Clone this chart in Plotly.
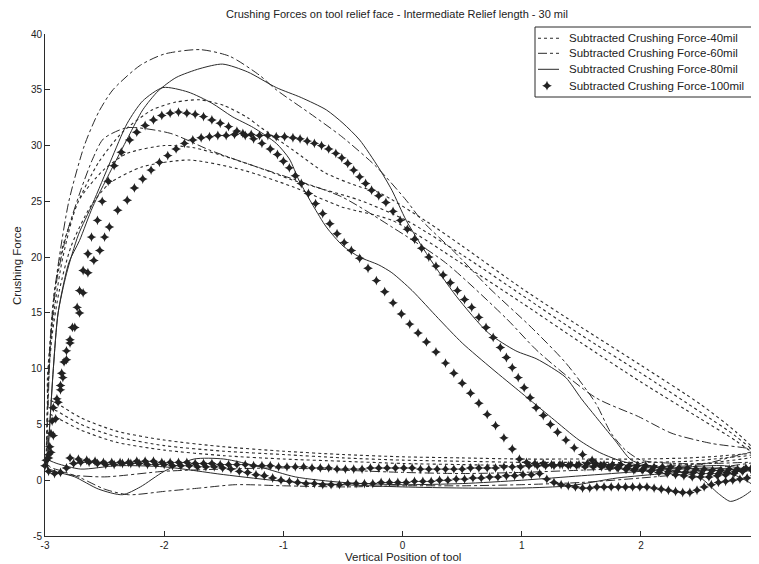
import plotly.graph_objects as go

# ---------------- data (x = vertical position, y = crushing force) ----------------
# 40 mil : forward strokes d1..d3 and return strokes t1..t3
f40_d1 = [(-2.99,2.0),(-2.98,7.0),(-2.96,12.0),(-2.92,17.0),(-2.85,21.0),(-2.72,25.0),(-2.55,28.5),(-2.35,31.2),(-2.10,33.2),(-1.90,33.9),(-1.70,34.1),(-1.50,33.6),(-1.30,32.5),(-1.20,31.7),(-0.92,29.6),(-0.64,27.5),(-0.36,26.3),(-0.20,25.8),(0.20,23.2),(0.50,21.0),(1.00,17.2),(1.50,13.7),(2.00,10.3),(2.50,6.8),(2.80,4.3),(2.95,2.6)]
f40_t1 = [(2.70,2.2),(2.40,2.0),(2.00,1.9),(1.50,1.9),(1.00,1.9),(0.50,2.0),(0.00,2.1),(-0.50,2.3),(-1.00,2.6),(-1.50,3.0),(-2.00,3.6),(-2.40,4.4),(-2.70,5.6),(-2.90,6.9),(-2.97,7.3)]
f40_d2 = [(-2.98,9.0),(-2.96,12.0),(-2.92,15.5),(-2.85,20.0),(-2.72,25.0),(-2.51,27.8),(-2.31,29.3),(-2.00,30.0),(-1.75,29.8),(-1.48,29.0),(-1.20,28.0),(-0.92,26.9),(-0.64,26.0),(-0.36,25.1),(0.03,23.3),(0.50,20.2),(1.00,16.6),(1.50,13.0),(2.00,9.6),(2.50,6.1),(2.80,3.9),(2.95,2.4)]
f40_t2 = [(2.70,2.0),(2.40,1.7),(2.00,1.6),(1.50,1.6),(1.00,1.6),(0.50,1.7),(0.00,1.8),(-0.50,2.0),(-1.00,2.3),(-1.50,2.6),(-2.00,3.1),(-2.40,3.9),(-2.70,5.0),(-2.90,6.2),(-2.97,6.6)]
f40_d3 = [(-2.97,9.0),(-2.94,13.0),(-2.88,17.0),(-2.78,21.0),(-2.62,24.5),(-2.46,26.6),(-2.18,28.1),(-1.79,28.7),(-1.34,27.8),(-0.92,26.3),(-0.51,24.5),(-0.09,23.3),(0.50,19.4),(1.00,15.9),(1.50,12.3),(2.00,8.8),(2.50,5.5),(2.80,3.5),(2.95,2.2)]
f40_t3 = [(2.70,1.7),(2.40,1.4),(2.00,1.3),(1.50,1.3),(1.00,1.3),(0.50,1.4),(0.00,1.5),(-0.50,1.7),(-1.00,1.9),(-1.50,2.2),(-2.00,2.7),(-2.40,3.4),(-2.70,4.5),(-2.90,5.6),(-2.97,6.0)]

# 60 mil
f60_d1 = [(-2.99,1.5),(-2.98,6.0),(-2.97,10.0),(-2.93,16.0),(-2.88,20.0),(-2.80,25.0),(-2.67,30.0),(-2.55,33.0),(-2.43,35.0),(-2.20,37.2),(-2.00,38.2),(-1.70,38.6),(-1.45,38.0),(-1.20,36.3),(-1.06,35.0),(-0.78,32.9),(-0.51,30.8),(-0.22,28.1),(0.03,25.1),(0.16,23.3),(0.45,20.3),(0.72,17.3),(1.08,13.7),(1.37,10.5),(1.62,6.9),(1.75,4.2),(1.87,2.7),(2.00,1.8),(2.30,1.5),(2.60,1.5),(2.95,1.6)]
f60_r1 = [(2.70,1.2),(2.40,0.6),(2.00,0.2),(1.50,-0.2),(1.00,-0.4),(0.50,-0.5),(0.00,-0.5),(-0.50,-0.6),(-1.00,-0.5),(-1.40,-0.4),(-1.70,-0.7),(-2.00,-1.0),(-2.30,-1.3),(-2.50,-0.8),(-2.70,0.2),(-2.85,0.8),(-2.97,1.3)]
f60_d2 = [(-2.98,4.0),(-2.97,8.0),(-2.95,13.0),(-2.90,18.0),(-2.82,22.0),(-2.70,26.0),(-2.60,28.8),(-2.51,30.6),(-2.31,31.6),(-1.95,31.1),(-1.62,29.6),(-1.31,28.4),(-0.92,27.0),(-0.51,25.4),(-0.09,22.7),(0.36,19.5),(0.87,14.5),(1.14,11.5),(1.62,7.4),(1.98,5.7),(2.26,4.2),(2.59,3.3),(2.96,2.7)]
f60_r2 = [(2.80,2.2),(2.50,1.4),(2.00,1.1),(1.50,0.9),(1.00,0.7),(0.50,0.6),(0.00,0.7),(-0.50,0.9),(-1.00,1.1),(-1.50,1.0),(-2.00,0.8),(-2.50,0.3),(-2.80,0.5),(-2.97,1.0)]

# 80 mil
f80_s1 = [(-2.98,1.0),(-2.96,5.0),(-2.93,10.0),(-2.89,15.0),(-2.82,18.5),(-2.72,22.0),(-2.60,24.8),(-2.45,28.6),(-2.31,32.0),(-2.18,34.0),(-2.01,35.2),(-1.80,34.8),(-1.60,33.8),(-1.43,32.6),(-1.25,31.6),(-1.06,30.2),(-0.95,28.8),(-0.87,26.9),(-0.75,24.6),(-0.64,22.7),(-0.50,21.0),(-0.36,20.0),(-0.20,19.3),(-0.09,18.6),(0.08,17.0),(0.30,14.5),(0.50,12.3),(0.75,10.0),(1.00,7.8),(1.25,5.6),(1.48,3.6),(1.65,2.5),(1.81,1.8),(2.00,1.3),(2.30,1.0),(2.60,1.1),(2.95,0.8)]
f80_r1 = [(2.70,1.3),(2.40,1.2),(2.00,0.8),(1.50,0.4),(1.00,0.0),(0.50,-0.3),(0.00,-0.4),(-0.50,-0.2),(-0.90,0.3),(-1.20,1.2),(-1.50,1.9),(-1.75,1.9),(-2.00,0.8),(-2.20,-0.6),(-2.35,-1.3),(-2.55,-0.8),(-2.75,0.3),(-2.85,0.6),(-2.97,0.9)]
f80_s2 = [(-2.98,2.0),(-2.96,5.0),(-2.93,10.0),(-2.89,15.0),(-2.80,19.5),(-2.71,21.5),(-2.60,24.5),(-2.46,27.5),(-2.30,30.8),(-2.18,33.2),(-2.05,34.9),(-1.90,36.1),(-1.70,36.9),(-1.51,37.3),(-1.30,36.6),(-1.06,35.2),(-0.85,34.3),(-0.64,33.2),(-0.50,32.0),(-0.36,30.5),(-0.20,28.0),(-0.09,26.0),(0.03,23.3),(0.22,20.0),(0.45,16.5),(0.72,13.2),(0.95,11.6),(1.12,10.9),(1.25,10.1),(1.37,9.2),(1.50,7.3),(1.62,5.7),(1.78,3.6),(1.92,1.8),(2.10,1.2),(2.30,0.8),(2.50,0.2),(2.65,-1.2),(2.75,-1.9),(2.85,-1.5),(2.95,-0.6)]
f80_r2 = [(2.80,0.4),(2.60,0.9),(2.20,0.6),(1.80,0.2),(1.40,-0.5),(1.00,-0.7),(0.50,-0.7),(0.00,-0.6),(-0.50,-0.4),(-1.00,-0.1),(-1.50,0.5),(-2.00,1.2),(-2.40,1.3),(-2.70,1.0),(-2.90,1.5),(-2.97,1.8)]

# 100 mil (sampled points, drawn as markers)
f100_l1 = [(-2.97,2.0),(-2.96,3.0),(-2.95,4.2),(-2.94,5.3),(-2.93,6.5),(-2.90,7.3),(-2.87,8.1),(-2.85,9.2),(-2.82,10.8),(-2.79,12.3),(-2.77,13.7),(-2.73,15.5),(-2.71,17.0),(-2.68,18.8),(-2.64,20.3),(-2.61,21.8),(-2.56,23.3),(-2.52,25.0),(-2.47,26.8),(-2.42,28.2),(-2.36,29.4),(-2.29,30.5),(-2.23,31.2),(-2.16,31.8),(-2.09,32.3),(-2.02,32.7),(-1.95,32.9),(-1.88,33.0),(-1.81,32.9),(-1.74,32.8),(-1.67,32.6),(-1.60,32.3),(-1.53,32.0),(-1.46,31.7),(-1.39,31.3),(-1.32,30.9),(-1.25,30.6),(-1.18,30.2),(-1.11,29.7),(-1.05,29.2),(-1.00,28.6),(-0.95,28.0),(-0.90,27.3),(-0.85,26.6),(-0.79,25.7),(-0.73,24.8),(-0.67,23.9),(-0.61,23.0),(-0.55,22.1),(-0.49,21.3),(-0.43,20.6),(-0.36,19.9),(-0.29,19.0),(-0.22,17.9),(-0.15,16.9),(-0.08,15.9),(-0.01,14.9),(0.06,14.0),(0.13,13.2),(0.20,12.4),(0.28,11.5),(0.36,10.5),(0.43,9.6),(0.50,8.7),(0.57,7.8),(0.64,6.9),(0.71,5.9),(0.78,4.9),(0.85,3.8),(0.92,2.8),(0.98,1.9)]
f100_a1 = [(1.04,1.6),(1.11,1.5),(1.18,1.5),(1.25,1.4),(1.32,1.4),(1.39,1.3),(1.46,1.3),(1.53,1.2),(1.60,1.2),(1.67,1.2),(1.74,1.1),(1.81,1.1),(1.88,1.0),(1.95,1.0),(2.02,1.0),(2.09,0.9),(2.16,0.9),(2.23,0.8),(2.30,0.8),(2.37,0.7),(2.44,0.7),(2.51,0.6),(2.58,0.6),(2.65,0.6),(2.72,0.7),(2.79,0.8),(2.86,0.9),(2.93,1.0)]
f100_c = [(2.95,0.4),(2.89,0.2),(2.83,0.1),(2.77,0.0),(2.71,-0.1),(2.65,-0.2),(2.59,-0.4),(2.53,-0.6),(2.47,-0.9),(2.41,-1.1),(2.35,-1.1),(2.29,-1.0),(2.23,-0.9),(2.17,-0.8),(2.11,-0.7),(2.05,-0.6),(1.99,-0.6),(1.93,-0.6),(1.87,-0.6),(1.81,-0.6),(1.75,-0.6),(1.69,-0.6),(1.63,-0.6),(1.57,-0.7),(1.51,-0.7),(1.45,-0.6),(1.39,-0.5),(1.33,-0.4),(1.27,-0.2),(1.21,0.1)]
f100_b = [(1.15,0.6),(1.08,0.5),(1.01,0.5),(0.94,0.4),(0.87,0.4),(0.80,0.3),(0.73,0.3),(0.66,0.2),(0.59,0.2),(0.52,0.1),(0.45,0.1),(0.38,0.0),(0.31,0.0),(0.24,-0.1),(0.17,-0.1),(0.10,-0.1),(0.03,-0.2),(-0.04,-0.2),(-0.11,-0.2),(-0.18,-0.2),(-0.25,-0.3),(-0.32,-0.3),(-0.39,-0.3),(-0.46,-0.3),(-0.53,-0.4),(-0.60,-0.4),(-0.67,-0.4),(-0.74,-0.3),(-0.81,-0.3),(-0.88,-0.2),(-0.95,-0.1),(-1.02,0.0),(-1.09,0.2),(-1.16,0.4),(-1.23,0.5),(-1.30,0.7),(-1.37,0.8),(-1.44,1.0),(-1.51,1.1)]
f100_aleft = [(-1.58,1.2),(-1.65,1.2),(-1.72,1.2),(-1.79,1.3),(-1.86,1.3),(-1.93,1.3),(-2.00,1.4),(-2.07,1.4),(-2.14,1.4),(-2.21,1.5),(-2.28,1.5),(-2.35,1.5),(-2.42,1.4),(-2.49,1.4),(-2.56,1.5),(-2.63,1.6),(-2.70,1.6),(-2.76,1.5)]
f100_loop = [(-2.82,1.1),(-2.87,0.7),(-2.92,0.6),(-2.97,0.8),(-3.00,1.3),(-2.99,1.8),(-2.97,2.3)]
f100_l2 = [(-2.95,2.5),(-2.93,4.0),(-2.91,5.5),(-2.89,7.0),(-2.87,8.5),(-2.86,9.6),(-2.84,10.6),(-2.82,11.6),(-2.79,12.6),(-2.75,13.7),(-2.71,15.0),(-2.68,16.8),(-2.64,18.6),(-2.59,19.7),(-2.54,20.6),(-2.50,21.8),(-2.46,22.7),(-2.39,24.2),(-2.31,25.1),(-2.25,26.2),(-2.18,27.0),(-2.11,27.8),(-2.04,28.5),(-1.97,29.1),(-1.90,29.7),(-1.83,30.2),(-1.76,30.5),(-1.69,30.7),(-1.62,30.8),(-1.55,30.9),(-1.48,30.9),(-1.41,31.0),(-1.34,31.1),(-1.27,31.0),(-1.20,30.9),(-1.13,30.9),(-1.06,30.8),(-0.99,30.8),(-0.92,30.7),(-0.86,30.6),(-0.80,30.4),(-0.74,30.2),(-0.68,30.0),(-0.62,29.7),(-0.56,29.3),(-0.51,28.9),(-0.46,28.4),(-0.41,27.8),(-0.36,27.2),(-0.31,26.6),(-0.26,26.0),(-0.20,25.5),(-0.14,24.9),(-0.08,24.1),(-0.02,23.3),(0.04,22.5),(0.10,21.6),(0.16,20.8),(0.22,20.0),(0.28,19.2),(0.34,18.4),(0.40,17.7),(0.46,17.0),(0.52,16.2),(0.58,15.5),(0.64,14.6),(0.70,13.7),(0.76,12.8),(0.82,11.9),(0.87,11.0),(0.92,10.1),(0.97,9.2),(1.02,8.3),(1.07,7.4),(1.12,6.5),(1.18,5.8),(1.24,5.0),(1.30,4.3),(1.37,3.6),(1.44,2.9),(1.51,2.3),(1.59,1.8)]
f100_a2 = [(1.66,1.3),(1.73,1.2),(1.80,1.1),(1.87,1.0),(1.94,0.9),(2.01,0.9),(2.08,0.8),(2.15,0.7),(2.22,0.6),(2.29,0.5),(2.36,0.4),(2.43,0.3),(2.50,0.3),(2.57,0.3),(2.64,0.4),(2.71,0.5),(2.78,0.6),(2.85,0.8),(2.92,1.0)]
f100_a3 = [(2.95,1.2),(2.88,1.1),(2.81,1.0),(2.74,1.0),(2.67,0.9),(2.60,0.9),(2.53,1.0),(2.46,1.0),(2.39,1.1),(2.32,1.1),(2.25,1.2),(2.18,1.2),(2.11,1.2),(2.04,1.3),(1.97,1.3),(1.90,1.3),(1.83,1.4),(1.76,1.4),(1.69,1.4),(1.62,1.5),(1.55,1.5),(1.48,1.4),(1.41,1.4),(1.34,1.4),(1.27,1.3),(1.20,1.3),(1.13,1.3),(1.06,1.3),(0.99,1.2),(0.92,1.2),(0.85,1.2),(0.78,1.1),(0.71,1.1),(0.64,1.1),(0.57,1.1),(0.50,1.0),(0.43,1.0),(0.36,1.0),(0.29,1.0),(0.22,1.0),(0.15,1.0),(0.08,1.1),(0.01,1.1),(-0.06,1.1),(-0.13,1.1),(-0.20,1.1),(-0.27,1.1),(-0.34,1.0),(-0.41,1.0),(-0.48,1.0),(-0.55,1.0),(-0.62,1.1),(-0.69,1.1),(-0.76,1.1),(-0.83,1.2),(-0.90,1.2),(-0.97,1.2),(-1.04,1.2),(-1.11,1.3),(-1.18,1.3),(-1.25,1.3),(-1.32,1.4),(-1.39,1.4),(-1.46,1.4),(-1.53,1.4),(-1.60,1.5),(-1.67,1.5),(-1.74,1.5),(-1.81,1.6),(-1.88,1.6),(-1.95,1.6),(-2.02,1.6),(-2.09,1.7),(-2.16,1.7),(-2.23,1.7),(-2.30,1.6),(-2.37,1.6),(-2.44,1.6),(-2.51,1.6),(-2.58,1.7),(-2.65,1.8),(-2.72,1.9),(-2.79,2.0)]

names = ["Subtracted Crushing Force-40mil", "Subtracted Crushing Force-60mil",
         "Subtracted Crushing Force-80mil", "Subtracted Crushing Force-100mil"]
x_ticks = [-3, -2, -1, 0, 1, 2]
y_ticks = [-5, 0, 5, 10, 15, 20, 25, 30, 35, 40]
title_text = "Crushing Forces on tool relief face - Intermediate Relief length - 30 mil"
x_title = "Vertical Position of tool"
y_title = "Crushing Force"

def join(*segs):
    pts = [p for s in segs for p in s]
    return [p[0] for p in pts], [p[1] for p in pts]

INK = "#2b2b2b"
FONT = "Liberation Sans, Arial, sans-serif"
# the page body adds an 8px offset at top/left, so the figure is 8px smaller
W, H = 751, 556
STYLE40 = dict(color=INK, width=1.1, dash="dot")
STYLE60 = dict(color=INK, width=1.0, dash="dashdot")
STYLE80 = dict(color=INK, width=1.0, dash="solid")
STAR = dict(symbol="star-diamond", size=7, color="#222222", line=dict(width=0))

fig = go.Figure()
x40, y40 = join(f40_d1, f40_t1, f40_d2, f40_t2, f40_d3, f40_t3)
fig.add_trace(go.Scatter(x=x40, y=y40, mode="lines", name=names[0], showlegend=False,
                         line=dict(**STYLE40, shape="spline", smoothing=0.7)))
x60, y60 = join(f60_d1, f60_r1, f60_d2, f60_r2)
fig.add_trace(go.Scatter(x=x60, y=y60, mode="lines", name=names[1], showlegend=False,
                         line=dict(**STYLE60, shape="spline", smoothing=0.7)))
x80, y80 = join(f80_s1, f80_r1, f80_s2, f80_r2)
fig.add_trace(go.Scatter(x=x80, y=y80, mode="lines", name=names[2], showlegend=False,
                         line=dict(**STYLE80, shape="spline", smoothing=0.7)))
x100, y100 = join(f100_l1, f100_a1, f100_c, f100_b, f100_aleft, f100_loop, f100_l2, f100_a2, f100_a3)
fig.add_trace(go.Scatter(x=x100, y=y100, mode="markers", name=names[3], showlegend=False,
                         cliponaxis=False, marker=STAR))

# ---- legend box drawn in plot-fraction coordinates (overlay axes x2/y2 span 0..1) ----
def px_x(X):  # screen x -> plot fraction
    return (X - 45) / 714
def px_y(Y):  # screen y -> plot fraction
    return (536 - Y) / 502

leg_rows = [38.3, 53.3, 69.3, 85.7]
shapes = [dict(type="rect", xref="paper", yref="paper", x0=px_x(535), x1=px_x(758),
               y0=px_y(97), y1=px_y(27), line=dict(color=INK, width=1), fillcolor="white", layer="below")]
for style, row in zip([STYLE40, STYLE60, STYLE80], leg_rows[:3]):
    shapes.append(dict(type="line", xref="paper", yref="paper", x0=px_x(538), x1=px_x(559),
                       y0=px_y(row), y1=px_y(row), line=style, layer="above"))
annotations = [dict(text=n, xref="paper", yref="paper", x=px_x(567), y=px_y(r), xanchor="left",
                    yanchor="middle", showarrow=False, font=dict(family=FONT, size=11.5, color="#222"))
               for n, r in zip(names, leg_rows)]
fig.add_trace(go.Scatter(x=[px_x(547)], y=[px_y(leg_rows[3])], xaxis="x2", yaxis="y2",
                         mode="markers", marker=STAR, showlegend=False, hoverinfo="skip"))

annotations += [
    dict(text=x_title, xref="paper", yref="paper", x=px_x(403), y=px_y(557), xanchor="center",
         yanchor="middle", showarrow=False, font=dict(family=FONT, size=11.5, color="#222")),
    dict(text=y_title, xref="paper", yref="paper", x=px_x(17), y=px_y(266), xanchor="center",
         yanchor="middle", textangle=-90, showarrow=False, font=dict(family=FONT, size=11.5, color="#222")),
]

axis_common = dict(showgrid=False, zeroline=False, showline=True, linecolor=INK, linewidth=1,
                   ticks="inside", ticklen=5, tickcolor=INK, mirror=False,
                   tickfont=dict(family=FONT, size=10, color="#222"))
fig.update_layout(
    width=W, height=H,
    margin=dict(l=37, r=0, t=26, b=28, autoexpand=False),
    paper_bgcolor="white", plot_bgcolor="white",
    font=dict(family=FONT, size=10, color="#222"),
    title=dict(text=title_text, x=px_x(397), xref="paper", xanchor="center", y=1 - 6 / H, yanchor="middle",
               font=dict(family=FONT, size=11, color="#222")),
    xaxis=dict(range=[-3, 2.99], tickvals=x_ticks, ticktext=[str(v) for v in x_ticks],
               automargin=False, **axis_common),
    yaxis=dict(range=[-5, 40], tickvals=y_ticks, ticktext=[str(v) for v in y_ticks],
               automargin=False, **axis_common),
    xaxis2=dict(overlaying="x", range=[0, 1], visible=False, domain=[0, 1]),
    yaxis2=dict(overlaying="y", range=[0, 1], visible=False, domain=[0, 1]),
    shapes=shapes,
    annotations=annotations,
    showlegend=False,
)

fig.write_html("out.html")
